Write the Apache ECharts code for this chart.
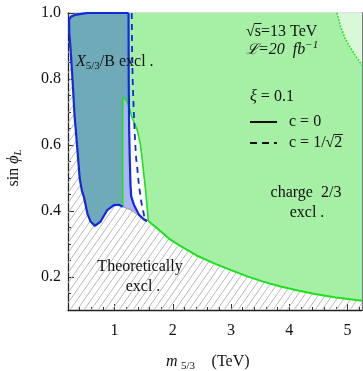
<!DOCTYPE html>
<html><head><meta charset="utf-8">
<script src="https://cdn.jsdelivr.net/npm/echarts@6/dist/echarts.min.js"></script>
<style>html,body{margin:0;padding:0;background:#fff}#c{width:363px;height:371px}</style>
</head><body><div id="c"></div>
<script>
// ---- tick values ----
const xMajorTicks = [1, 2, 3, 4, 5];
const xMinorTicks = [0.4, 0.6, 0.8, 1.2, 1.4, 1.6, 1.8, 2.2, 2.4, 2.6, 2.8, 3.2, 3.4, 3.6, 3.8, 4.2, 4.4, 4.6, 4.8, 5.2];
const yMajorTicks = [0.2, 0.4, 0.6, 0.8, 1.0];
const yMinorTicks = [0.15, 0.25, 0.3, 0.35, 0.45, 0.5, 0.55, 0.65, 0.7, 0.75, 0.85, 0.9, 0.95];

// ---- curves (m_5/3 in TeV, sin phi_L) ----
// X5/3/B exclusion boundary (c=0), top edge + left side down to the dip and hump
const blueLeftEdge = [[1.24, 1.0], [0.55, 1.0], [0.45, 0.998], [0.32, 0.994], [0.25, 0.989], [0.218, 0.98], [0.222, 0.94], [0.245, 0.888], [0.28, 0.79], [0.314, 0.686], [0.36, 0.59], [0.40, 0.50], [0.44, 0.46], [0.473, 0.443], [0.532, 0.393], [0.588, 0.368], [0.662, 0.355], [0.76, 0.368], [0.875, 0.403], [0.988, 0.418], [1.07, 0.419], [1.14, 0.413]];
// X5/3/B exclusion boundary (c=0), right side
const blueRightEdge = [[1.24, 1.0], [1.243, 0.8], [1.25, 0.65], [1.262, 0.55], [1.273, 0.48], [1.285, 0.445], [1.33, 0.42], [1.417, 0.389], [1.50, 0.375], [1.56, 0.369]];
// X5/3/B exclusion boundary (c=1/sqrt2), dashed
const blueDashed = [[1.295, 1.0], [1.30, 0.90], [1.31, 0.80], [1.33, 0.70], [1.35, 0.62], [1.37, 0.56], [1.39, 0.53], [1.417, 0.48], [1.458, 0.428], [1.503, 0.39], [1.51, 0.382]];
// charge 2/3 exclusion boundary: left branch, peak, right branch
const greenLeftBranch = [[1.14, 0.413], [1.138, 0.5], [1.137, 0.6], [1.138, 0.70], [1.143, 0.735], [1.155, 0.745]];
const greenRightBranch = [[1.155, 0.745], [1.18, 0.741], [1.218, 0.731], [1.245, 0.716], [1.304, 0.681], [1.389, 0.645], [1.44, 0.605], [1.47, 0.565], [1.49, 0.53], [1.532, 0.464], [1.56, 0.41], [1.58, 0.37]];
// charge 2/3 exclusion lower boundary
const greenLower = [[1.58, 0.37], [1.75, 0.345], [1.96, 0.313], [2.13, 0.294], [2.40, 0.266], [2.70, 0.242], [3.0, 0.221], [3.28, 0.202], [3.55, 0.186], [3.85, 0.171], [4.15, 0.159], [4.42, 0.149], [4.8, 0.138], [5.25, 0.128]];
// theoretical limit between hump and green corner
const theoryEdge = [[1.14, 0.413], [1.275, 0.403], [1.446, 0.383], [1.58, 0.37]];
// upper-right lighter area boundary
const paleEdge = [[4.82, 1.0], [4.88, 0.96], [4.96, 0.923], [5.05, 0.895], [5.13, 0.873], [5.25, 0.842]];

const X_MIN = 0.2, X_MAX = 5.25, Y_MIN = 0.1, Y_MAX = 1.0;

// ---- region polygons built from the curves ----
const hatchPoly = [[X_MIN, Y_MIN], [X_MIN, 0.985]].concat(blueLeftEdge.slice(5), theoryEdge.slice(1), greenLower.slice(1), [[X_MAX, Y_MIN]]);
const greenPoly = [[1.155, Y_MAX], [X_MAX, Y_MAX]].concat(greenLower.slice().reverse(), greenRightBranch.slice().reverse());
const palePoly = paleEdge.concat([[X_MAX, Y_MAX]]);
const tealPoly = blueLeftEdge.concat(greenLeftBranch.slice(1), greenRightBranch.slice(1, 4), [[1.243, 0.8]]);
const lavPoly = greenLeftBranch.concat(greenRightBranch.slice(1, 4), blueRightEdge.slice(2, 8), theoryEdge.slice(0, 2).reverse());

// hatch pattern
const pc = document.createElement('canvas'); pc.width = 7; pc.height = 10;
const pctx = pc.getContext('2d');
pctx.strokeStyle = '#b8b8b8'; pctx.lineWidth = 1;
pctx.beginPath();
pctx.moveTo(0, 10); pctx.lineTo(7, 0);
pctx.moveTo(-1, 1.43); pctx.lineTo(1, -1.43);
pctx.moveTo(6, 11.43); pctx.lineTo(8, 8.57);
pctx.stroke();

const FONT = "'Liberation Serif','DejaVu Serif',serif";
const mctx = document.createElement('canvas').getContext('2d');
mctx.font = "16px 'Liberation Serif'";
function tw(s) { return mctx.measureText(s).width; }

function poly(pts, style, z) {
  return {
    type: 'custom', coordinateSystem: 'cartesian2d', xAxisIndex: 0, yAxisIndex: 0,
    data: pts, silent: true, z: z, clip: true,
    renderItem: function (params, api) {
      if (params.dataIndex !== 0) return null;
      return { type: 'polygon', shape: { points: pts.map(function (p) { return api.coord(p); }) }, style: style };
    }
  };
}
function line(pts, color, width, type, z) {
  return { type: 'line', xAxisIndex: 0, yAxisIndex: 0, data: pts, symbol: 'none', showSymbol: false, silent: true, z: z,
    lineStyle: { color: color, width: width, type: type } };
}
function xAx(pos, ticks, len, labels, lineShow, lineColor) {
  return { type: 'value', min: X_MIN, max: X_MAX, position: pos, splitLine: { show: false },
    axisLine: { show: lineShow, onZero: false, lineStyle: { color: lineColor, width: 1.3 } },
    axisTick: { show: true, inside: true, length: len, customValues: ticks, lineStyle: { color: '#333', width: 1 } },
    axisLabel: labels ? { customValues: ticks, fontFamily: FONT, fontSize: 16, color: '#111', margin: 13 } : { show: false } };
}
function yAx(pos, ticks, len, labels, lineShow, lineColor) {
  return { type: 'value', min: Y_MIN, max: Y_MAX, position: pos, splitLine: { show: false },
    axisLine: { show: lineShow, onZero: false, lineStyle: { color: lineColor, width: 1.3 } },
    axisTick: { show: true, inside: true, length: len, customValues: ticks, lineStyle: { color: '#333', width: 1 } },
    axisLabel: labels ? { customValues: ticks, fontFamily: FONT, fontSize: 16, color: '#111', margin: 7,
      formatter: function (v) { return v.toFixed(1); } } : { show: false } };
}

const sqrtX = 246, cX = 289;
const s1a = sqrtX + tw('√'), s1b = s1a + tw('s');
const s2a = cX + tw('c = 1/√'), s2b = s2a + tw('2');

const chart = echarts.init(document.getElementById('c'));
chart.setOption({
  animation: false,
  grid: { left: 68, right: 1, top: 13, bottom: 61, containLabel: false },
  xAxis: [
    xAx('bottom', xMajorTicks, 6, true, true, '#222'),
    xAx('bottom', xMinorTicks, 3, false, false, '#222'),
    xAx('top', xMajorTicks, 6, false, true, '#777'),
    xAx('top', xMinorTicks, 3, false, false, '#777')
  ],
  yAxis: [
    yAx('left', yMajorTicks, 6, true, true, '#222'),
    yAx('left', yMinorTicks, 3, false, false, '#222'),
    yAx('right', yMajorTicks, 6, false, true, '#777'),
    yAx('right', yMinorTicks, 3, false, false, '#777')
  ],
  series: [
    poly(hatchPoly, { fill: { image: pc, repeat: 'repeat' } }, 1),
    poly(greenPoly, { fill: '#a5f0a5' }, 2),
    poly(palePoly, { fill: '#d8f8d8' }, 3),
    poly(tealPoly, { fill: '#6faab8' }, 3),
    poly(lavPoly, { fill: '#adb5f0' }, 3),
    line(theoryEdge, '#9a9a9a', 1, 'solid', 5),
    line(greenLeftBranch, '#1ee01e', 1.6, 'solid', 6),
    line(greenRightBranch, '#1ee01e', 1.6, 'solid', 6),
    line(greenLower, '#1ee01e', 2, 'solid', 6),
    line(paleEdge, '#1ee01e', 1.6, 'dotted', 6),
    line(blueLeftEdge, '#1428e0', 2.2, 'solid', 7),
    line(blueRightEdge, '#1428e0', 2.2, 'solid', 7),
    line(blueDashed, '#1428e0', 1.8, [6, 5], 7)
  ],
  graphic: [
    { type: 'text', x: 76, y: 62, z: 20, style: { text: '{i|X}{s|5/3}{n|/B excl .}', verticalAlign: 'middle', fill: '#111',
      rich: { i: { fontFamily: FONT, fontSize: 16, fontStyle: 'italic', lineHeight: 20, verticalAlign: 'middle' },
              s: { fontFamily: FONT, fontSize: 11, lineHeight: 14, verticalAlign: 'bottom' },
              n: { fontFamily: FONT, fontSize: 16, lineHeight: 20, verticalAlign: 'middle' } } } },
    { type: 'text', x: sqrtX, y: 32, z: 20, style: { text: '√s=13 TeV', font: "16px 'Liberation Serif'", fill: '#111', verticalAlign: 'middle' } },
    { type: 'line', z: 20, shape: { x1: s1a - 0.5, y1: 23.5, x2: s1b + 0.5, y2: 23.5 }, style: { stroke: '#111', lineWidth: 1 } },
    { type: 'text', x: 246, y: 50, z: 20, style: { text: '{L|ℒ}{i|=20  fb}{s|−1}', verticalAlign: 'middle', fill: '#111',
      rich: { L: { fontFamily: "'DejaVu Serif',serif", fontSize: 15, fontStyle: 'italic', lineHeight: 20, verticalAlign: 'middle' },
              i: { fontFamily: FONT, fontSize: 16, fontStyle: 'italic', lineHeight: 20, verticalAlign: 'middle' },
              s: { fontFamily: FONT, fontSize: 11, fontStyle: 'italic', lineHeight: 14, verticalAlign: 'top' } } } },
    { type: 'text', x: 250, y: 97, z: 20, style: { text: '{i|ξ} = 0.1', font: '16px ' + FONT, fill: '#111', verticalAlign: 'middle',
      rich: { i: { fontFamily: FONT, fontSize: 16, fontStyle: 'italic' } } } },
    { type: 'line', z: 20, shape: { x1: 250, y1: 122, x2: 277, y2: 122 }, style: { stroke: '#111', lineWidth: 2 } },
    { type: 'line', z: 20, shape: { x1: 250, y1: 143, x2: 277, y2: 143 }, style: { stroke: '#111', lineWidth: 2, lineDash: [7, 5] } },
    { type: 'text', x: cX, y: 122, z: 20, style: { text: 'c = 0', font: "16px 'Liberation Serif'", fill: '#111', verticalAlign: 'middle' } },
    { type: 'text', x: cX, y: 143, z: 20, style: { text: 'c = 1/√2', font: "16px 'Liberation Serif'", fill: '#111', verticalAlign: 'middle' } },
    { type: 'line', z: 20, shape: { x1: s2a - 0.5, y1: 134.5, x2: s2b + 0.5, y2: 134.5 }, style: { stroke: '#111', lineWidth: 1 } },
    { type: 'text', x: 306, y: 193, z: 20, style: { text: 'charge  2/3', font: '16px ' + FONT, fill: '#111', align: 'center', verticalAlign: 'middle' } },
    { type: 'text', x: 307, y: 213, z: 20, style: { text: 'excl .', font: '16px ' + FONT, fill: '#111', align: 'center', verticalAlign: 'middle' } },
    { type: 'text', x: 140, y: 267, z: 20, style: { text: 'Theoretically', font: '16px ' + FONT, fill: '#111', align: 'center', verticalAlign: 'middle' } },
    { type: 'text', x: 143, y: 287, z: 20, style: { text: 'excl .', font: '16px ' + FONT, fill: '#111', align: 'center', verticalAlign: 'middle' } },
    { type: 'text', x: 166, y: 362, z: 20, style: { text: '{i|m} {s|5/3}     {n|(TeV)}', verticalAlign: 'middle', fill: '#111',
      rich: { i: { fontFamily: FONT, fontSize: 16, fontStyle: 'italic', lineHeight: 20, verticalAlign: 'middle' },
              s: { fontFamily: FONT, fontSize: 11, lineHeight: 14, verticalAlign: 'bottom' },
              n: { fontFamily: FONT, fontSize: 16, lineHeight: 20, verticalAlign: 'middle' } } } },
    { type: 'text', x: 14, y: 168, rotation: Math.PI / 2, z: 20, style: { text: '{n|sin }{i|ϕ}{s|L}', align: 'center', verticalAlign: 'middle', fill: '#111',
      rich: { n: { fontFamily: FONT, fontSize: 16, lineHeight: 20, verticalAlign: 'middle' },
              i: { fontFamily: FONT, fontSize: 16, fontStyle: 'italic', lineHeight: 20, verticalAlign: 'middle' },
              s: { fontFamily: FONT, fontSize: 11, fontStyle: 'italic', lineHeight: 14, verticalAlign: 'bottom' } } } }
  ]
});
</script>
</body></html>
